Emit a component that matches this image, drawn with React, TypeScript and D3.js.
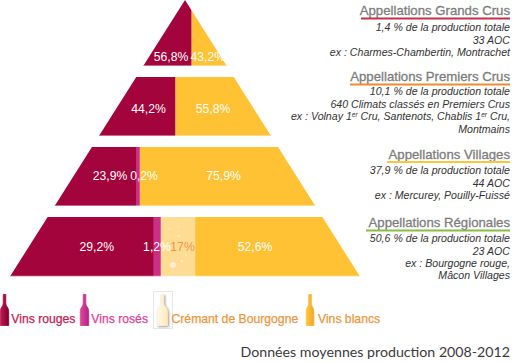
import React from "react";
import * as d3 from "d3";

const tierNames = ["Grands Crus", "Premiers Crus", "Villages", "Régionales"];
// share labels, wine order: rouges, rosés, crémant, blancs
const rouges = ["56,8%", "44,2%", "23,9%", "29,2%"];
const roses = ["", "", "0,2%", "1,2%"];
const cremant = ["", "", "", "17%"];
const blancs = ["43,2%", "55,8%", "75,9%", "52,6%"];
// band boundaries on the pyramid's base, 0 to 100 (bands are not drawn to scale in the source)
const rougeEnd = [51.9, 47.3, 36.0, 41.1];
const roseEnd = [51.9, 47.3, 37.1, 43.1];
const cremantEnd = [51.9, 47.3, 37.1, 52.9];
// label centres on the same base axis
const rougeLabelAt = [46.0, 39.6, 28.6, 24.8];
const roseLabelAt = [0, 0, 38.3, 42.0];
const cremantLabelAt = [0, 0, 0, 49.3];
const blancLabelAt = [56.5, 58, 61, 70];
const tierTop = [0, 77, 147, 217];
const tierBottom = [66, 136, 206, 276.5];
const tierLabelY = [61, 113, 180, 251];

const headings = [
  "Appellations Grands Crus",
  "Appellations Premiers Crus",
  "Appellations Villages",
  "Appellations Régionales",
];
const headingColors = ["#c2324b", "#f08a33", "#f7c83e", "#86bd45"];
const headingBaselines = [15, 81, 159, 227];
const underlineY = [18.5, 84.5, 162, 230.5];
const underlineStart = [361, 350, 387, 366];
const notes: string[][] = [
  ["1,4 % de la production totale", "33 AOC", "ex : Charmes-Chambertin, Montrachet"],
  ["10,1 % de la production totale", "640 Climats classés en Premiers Crus", "ex : Volnay 1^er^ Cru, Santenots, Chablis 1^er^ Cru,", "Montmains"],
  ["37,9 % de la production totale", "44 AOC", "ex : Mercurey, Pouilly-Fuissé"],
  ["50,6 % de la production totale", "23 AOC", "ex : Bourgogne rouge,", "Mâcon Villages"],
];
const noteBaselines = [[31, 43.5, 56], [95, 107.5, 120, 132.5], [174, 186.5, 199], [242, 254.5, 267, 279]];

const legendNames = ["Vins rouges", "Vins rosés", "Crémant de Bourgogne", "Vins blancs"];
const legendText = ["#c4214f", "#e23f9c", "#f0963c", "#f0963c"];
const legendX = [11.3, 91.3, 171.5, 318];
const bottleX = [4.5, 84.5, 162.5, 310];
const legendGrad = [["#c01a50", "#7c0030"], ["#e0479b", "#b02480"], ["#fff8e8", "#ffe9b8"], ["#ffc83c", "#f7a32a"]];
const footer = "Données moyennes production 2008-2012";

const fills = { rouge: "#a4043c", rose: "#cc2d87", cremant: "#ffdc93", blanc: "#ffc234" };
const bubbles: [number, number, number][] = [[173, 265, 3], [182, 261, 1.3], [186, 255, 1], [178.5, 236, 1], [169.5, 229, .7], [178.5, 226.5, .7], [173, 236, .6]];

const W = 515, H = 362;
const x = d3.scaleLinear().domain([0, 100]).range([10, 360]);
const edge = d3.scaleLinear().domain([0, 276.5]).range([0, 175]);
const centre = 185;

function Bottle({ cx, i }: { cx: number; i: number }) {
  const w = i === 2 ? 5 : i === 3 ? 3.8 : 4.2;
  const d = `M${cx - 1.3},294.5 L${cx + 1.3},294.5 L${cx + 1.3},303 C${cx + 1.5},307 ${cx + w},307 ${cx + w},312 L${cx + w},325.5 L${cx - w},325.5 L${cx - w},312 C${cx - w},307 ${cx - 1.5},307 ${cx - 1.3},303 Z`;
  return <path d={d} fill={`url(#b${i})`} stroke={`url(#b${i})`} strokeWidth={0.8} strokeLinejoin="round" style={i === 2 ? { filter: "drop-shadow(1px 1px 1px #999)" } : undefined} />;
}

function Note({ s, y }: { s: string; y: number }) {
  const parts = s.split("^");
  return (
    <text x={510} y={y} textAnchor="end" fontSize={10.6} fontStyle="italic" fill="#333">
      {parts.map((p, i) =>
        i % 2 ? <tspan key={i} dy={-3.5} fontSize={6.5}>{p}</tspan> : <tspan key={i} dy={i ? 3.5 : 0}>{p}</tspan>
      )}
    </text>
  );
}

export default function App() {
  return (
    <svg width={W} height={H} style={{ position: "absolute", left: 0, top: 0, fontFamily: "'Liberation Sans', sans-serif" }}>
      <defs>
        {legendGrad.map((g, i) => (
          <linearGradient key={i} id={`b${i}`} x1="0" x2="1" y1="0" y2="0">
            <stop offset="0" stopColor={g[0]} />
            <stop offset="1" stopColor={g[1]} />
          </linearGradient>
        ))}
      </defs>
      {tierNames.map((name, t) => {
        const top = tierTop[t], bot = tierBottom[t];
        const lt = centre - edge(top), rt = centre + edge(top);
        const lb = centre - edge(bot), rb = centre + edge(bot);
        const clip = `t${t}`;
        const ends = [x.invert(0), rougeEnd[t], roseEnd[t], cremantEnd[t], 100];
        const colors = [fills.rouge, fills.rose, fills.cremant, fills.blanc];
        return (
          <g key={name}>
            <clipPath id={clip}><path d={`M${lt},${top}L${rt},${top}L${rb},${bot}L${lb},${bot}Z`} /></clipPath>
            <g clipPath={`url(#${clip})`}>
              {colors.map((c, k) => {
                const a = k === 0 ? 0 : x(ends[k]);
                const b = k === 3 ? W : x(ends[k + 1]);
                return b > a ? <rect key={k} x={a} y={top} width={b - a} height={bot - top} fill={c} /> : null;
              })}
              {t === 3 && bubbles.map((d, i) => <circle key={i} cx={d[0]} cy={d[1]} r={d[2]} fill="#fff" opacity={0.55} />)}
              <rect x={0} y={bot - 0.8} width={W} height={0.8} fill="#fff" opacity={0.5} />
            </g>
            <g fontSize={12.2} textAnchor="middle" fill="#fff">
              <text x={x(rougeLabelAt[t])} y={tierLabelY[t]}>{rouges[t]}</text>
              {roses[t] && <text x={x(roseLabelAt[t])} y={tierLabelY[t]}>{roses[t]}</text>}
              {cremant[t] && <text x={x(cremantLabelAt[t])} y={tierLabelY[t]} fill="#f0964a">{cremant[t]}</text>}
              <text x={x(blancLabelAt[t])} y={tierLabelY[t]}>{blancs[t]}</text>
            </g>
          </g>
        );
      })}
      {headings.map((h, i) => (
        <g key={h}>
          <text x={510} y={headingBaselines[i]} textAnchor="end" fontSize={13.2} fill="#7d7d7d" stroke="#7d7d7d" strokeWidth={0.3}>{h}</text>
          <rect x={underlineStart[i]} y={underlineY[i] - 1} width={510 - underlineStart[i]} height={2} fill={headingColors[i]} />
          {notes[i].map((s, j) => <Note key={j} s={s} y={noteBaselines[i][j]} />)}
        </g>
      ))}
      <rect x={153.5} y={291.5} width={19} height={37} fill="#fff" stroke="#e8e8e8" />
      {legendNames.map((n, i) => (
        <g key={n}>
          <Bottle cx={bottleX[i]} i={i} />
          <text x={legendX[i]} y={322.5} fontSize={12.2} fill={legendText[i]} stroke={legendText[i]} strokeWidth={0.25}>{n}</text>
        </g>
      ))}
      <text x={510} y={357} textAnchor="end" fontSize={14.2} fill="#3a3a3a" style={{ fontFamily: "Lato, sans-serif", fontWeight: 400 }}>{footer}</text>
    </svg>
  );
}
